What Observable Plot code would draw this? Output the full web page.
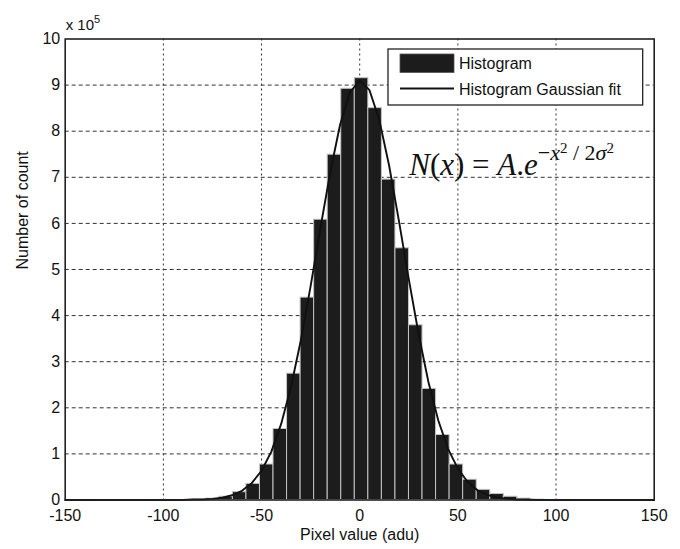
<!DOCTYPE html>
<html>
<head>
<meta charset="utf-8">
<script src="https://cdn.jsdelivr.net/npm/d3@7"></script>
<script src="https://cdn.jsdelivr.net/npm/@observablehq/plot@0.6"></script>
<style>
  html, body { margin: 0; padding: 0; background: #fff; }
  #chart { width: 680px; height: 549px; }
</style>
</head>
<body>
<div id="chart"></div>
<script>
// ---- Data ----
const binWidth = 6.9;
const binStart = [-85.3, -78.4, -71.5, -64.6, -57.7, -50.8, -43.9, -37.0, -30.1, -23.2, -16.3, -9.4, -2.5,
                  4.4, 11.3, 18.2, 25.1, 32.0, 38.9, 45.8, 52.7, 59.6, 66.5, 73.4, 80.3, 87.2];
const binCount = [1000, 3000, 7000, 17000, 35000, 77000, 154000, 274000, 439000, 608000, 749000, 892000, 915000,
                  850000, 695000, 546000, 379000, 241000, 141000, 77000, 44000, 22000, 13000, 7000, 3000, 1000];

const fitX = [-150, -100, -90, -85, -80, -75, -70, -65, -60, -55, -50, -45, -40, -35, -30, -25, -20, -15, -10, -5, 0,
              5, 10, 15, 20, 25, 30, 35, 40, 45, 50, 55, 60, 65, 70, 75, 80, 85, 90, 100, 150];
const fitY = [0, 0, 0, 1000, 1000, 2500, 5000, 10300, 19900, 36500, 63500, 105000, 165000, 245000, 346000, 464000, 590000, 711000, 814000, 884000, 910000,
              889000, 824000, 725000, 605000, 479000, 360000, 256000, 173000, 111000, 68000, 39000, 21000, 11000, 5500, 2500, 1100, 400, 0, 0, 0];

const xTicks = [-150, -100, -50, 0, 50, 100, 150];
const yTicks = [0, 100000, 200000, 300000, 400000, 500000, 600000, 700000, 800000, 900000, 1000000];

const xLabel = "Pixel value (adu)";
const yLabel = "Number of count";
const exponentLabel = "x 10";
const exponentPower = "5";
const legendLabels = ["Histogram", "Histogram Gaussian fit"];

// ---- Tables ----
const bars = binStart.map((s, i) => ({x1: s, x2: s + binWidth, count: binCount[i]}));
const fit = fitX.map((x, i) => ({x, y: fitY[i]}));

const W = 680, H = 549;
const mTop = 38.5, mBottom = 49.5, mLeft = 64.7, mRight = 26.3;
const sans = "'Liberation Sans', Arial, Helvetica, sans-serif";

const plot = Plot.plot({
  width: W,
  height: H,
  marginTop: mTop,
  marginBottom: mBottom,
  marginLeft: mLeft,
  marginRight: mRight,
  style: {fontFamily: sans, fontSize: "16px", color: "#111", background: "#fff", overflow: "visible"},
  x: {domain: [-150, 150], ticks: xTicks, tickFormat: d => String(d), label: null, tickSize: 0, tickPadding: 10},
  y: {domain: [0, 1000000], ticks: yTicks, tickFormat: d => String(d / 100000), label: null, tickSize: 0, tickPadding: 5},
  marks: [
    Plot.ruleX(xTicks.slice(1, -1), {stroke: "#333", strokeWidth: 1, strokeDasharray: "2,3"}),
    Plot.ruleY(yTicks.slice(1, -1), {stroke: "#333", strokeWidth: 1, strokeDasharray: "4,3"}),
    Plot.rectY(bars, {x1: "x1", x2: "x2", y: "count", fill: "#1c1c1c", stroke: "#c4c4c4", strokeWidth: 1}),
    Plot.line(fit, {x: "x", y: "y", stroke: "#111", strokeWidth: 1.9}),
    Plot.frame({stroke: "#222", strokeWidth: 1.6}),
    Plot.text([xLabel], {frameAnchor: "bottom", dy: 40, fontSize: 16, fill: "#111"}),
    Plot.text([yLabel], {frameAnchor: "left", dx: -42, rotate: -90, fontSize: 16, fill: "#111"})
  ]
});

document.getElementById("chart").appendChild(plot);

const svg = d3.select(plot);
const frameRight = W - mRight;

// ---- Exponent label ("x 10^5") above the y axis ----
const ex = svg.append("text").attr("x", mLeft + 1).attr("y", mTop - 9)
  .attr("text-anchor", "start").attr("font-family", sans).attr("font-size", 15).attr("fill", "#111");
ex.append("tspan").text(exponentLabel);
ex.append("tspan").attr("font-size", 11).attr("dy", -7).text(exponentPower);

// ---- Legend (MATLAB-style box, north-east) ----
const lg = svg.append("g").attr("font-family", sans).attr("font-size", 16).attr("fill", "#111").attr("text-anchor", "start");
const boxX = 388, boxY = 49, boxW = frameRight - 11 - 388, boxH = 56;
lg.append("rect").attr("x", boxX).attr("y", boxY).attr("width", boxW).attr("height", boxH)
  .attr("fill", "#fff").attr("stroke", "#222").attr("stroke-width", 1.3);
lg.append("rect").attr("x", boxX + 12).attr("y", boxY + 5).attr("width", 54).attr("height", 18.5)
  .attr("fill", "#1c1c1c").attr("stroke", "#555").attr("stroke-width", 0.8);
lg.append("line").attr("x1", boxX + 12).attr("x2", boxX + 66).attr("y1", boxY + 39.5).attr("y2", boxY + 39.5)
  .attr("stroke", "#111").attr("stroke-width", 1.8);
lg.append("text").attr("x", boxX + 71).attr("y", boxY + 20).text(legendLabels[0]);
lg.append("text").attr("x", boxX + 71).attr("y", boxY + 45.5).text(legendLabels[1]);

// ---- Formula annotation ----
const xs = plot.scale("x"), ys = plot.scale("y");
const fx = xs.apply(25.5), fy = ys.apply(704000);
const ft = svg.append("text").attr("x", fx).attr("y", fy).attr("text-anchor", "start")
  .attr("font-family", "'Liberation Serif', 'Times New Roman', serif").attr("font-size", 31).attr("fill", "#111");
ft.append("tspan").attr("font-style", "italic").text("N");
ft.append("tspan").text("(");
ft.append("tspan").attr("font-style", "italic").text("x");
ft.append("tspan").text(") = ");
ft.append("tspan").attr("font-style", "italic").text("A");
ft.append("tspan").text(".");
ft.append("tspan").attr("font-style", "italic").text("e");
ft.append("tspan").attr("font-size", 22).attr("dy", -15).text("−");
ft.append("tspan").attr("font-size", 22).attr("font-style", "italic").text("x");
ft.append("tspan").attr("font-size", 15).attr("dy", -7).text("2");
ft.append("tspan").attr("font-size", 22).attr("dy", 7).text(" / 2");
ft.append("tspan").attr("font-size", 22).attr("font-style", "italic").text("σ");
ft.append("tspan").attr("font-size", 15).attr("dy", -7).text("2");
</script>
</body>
</html>
